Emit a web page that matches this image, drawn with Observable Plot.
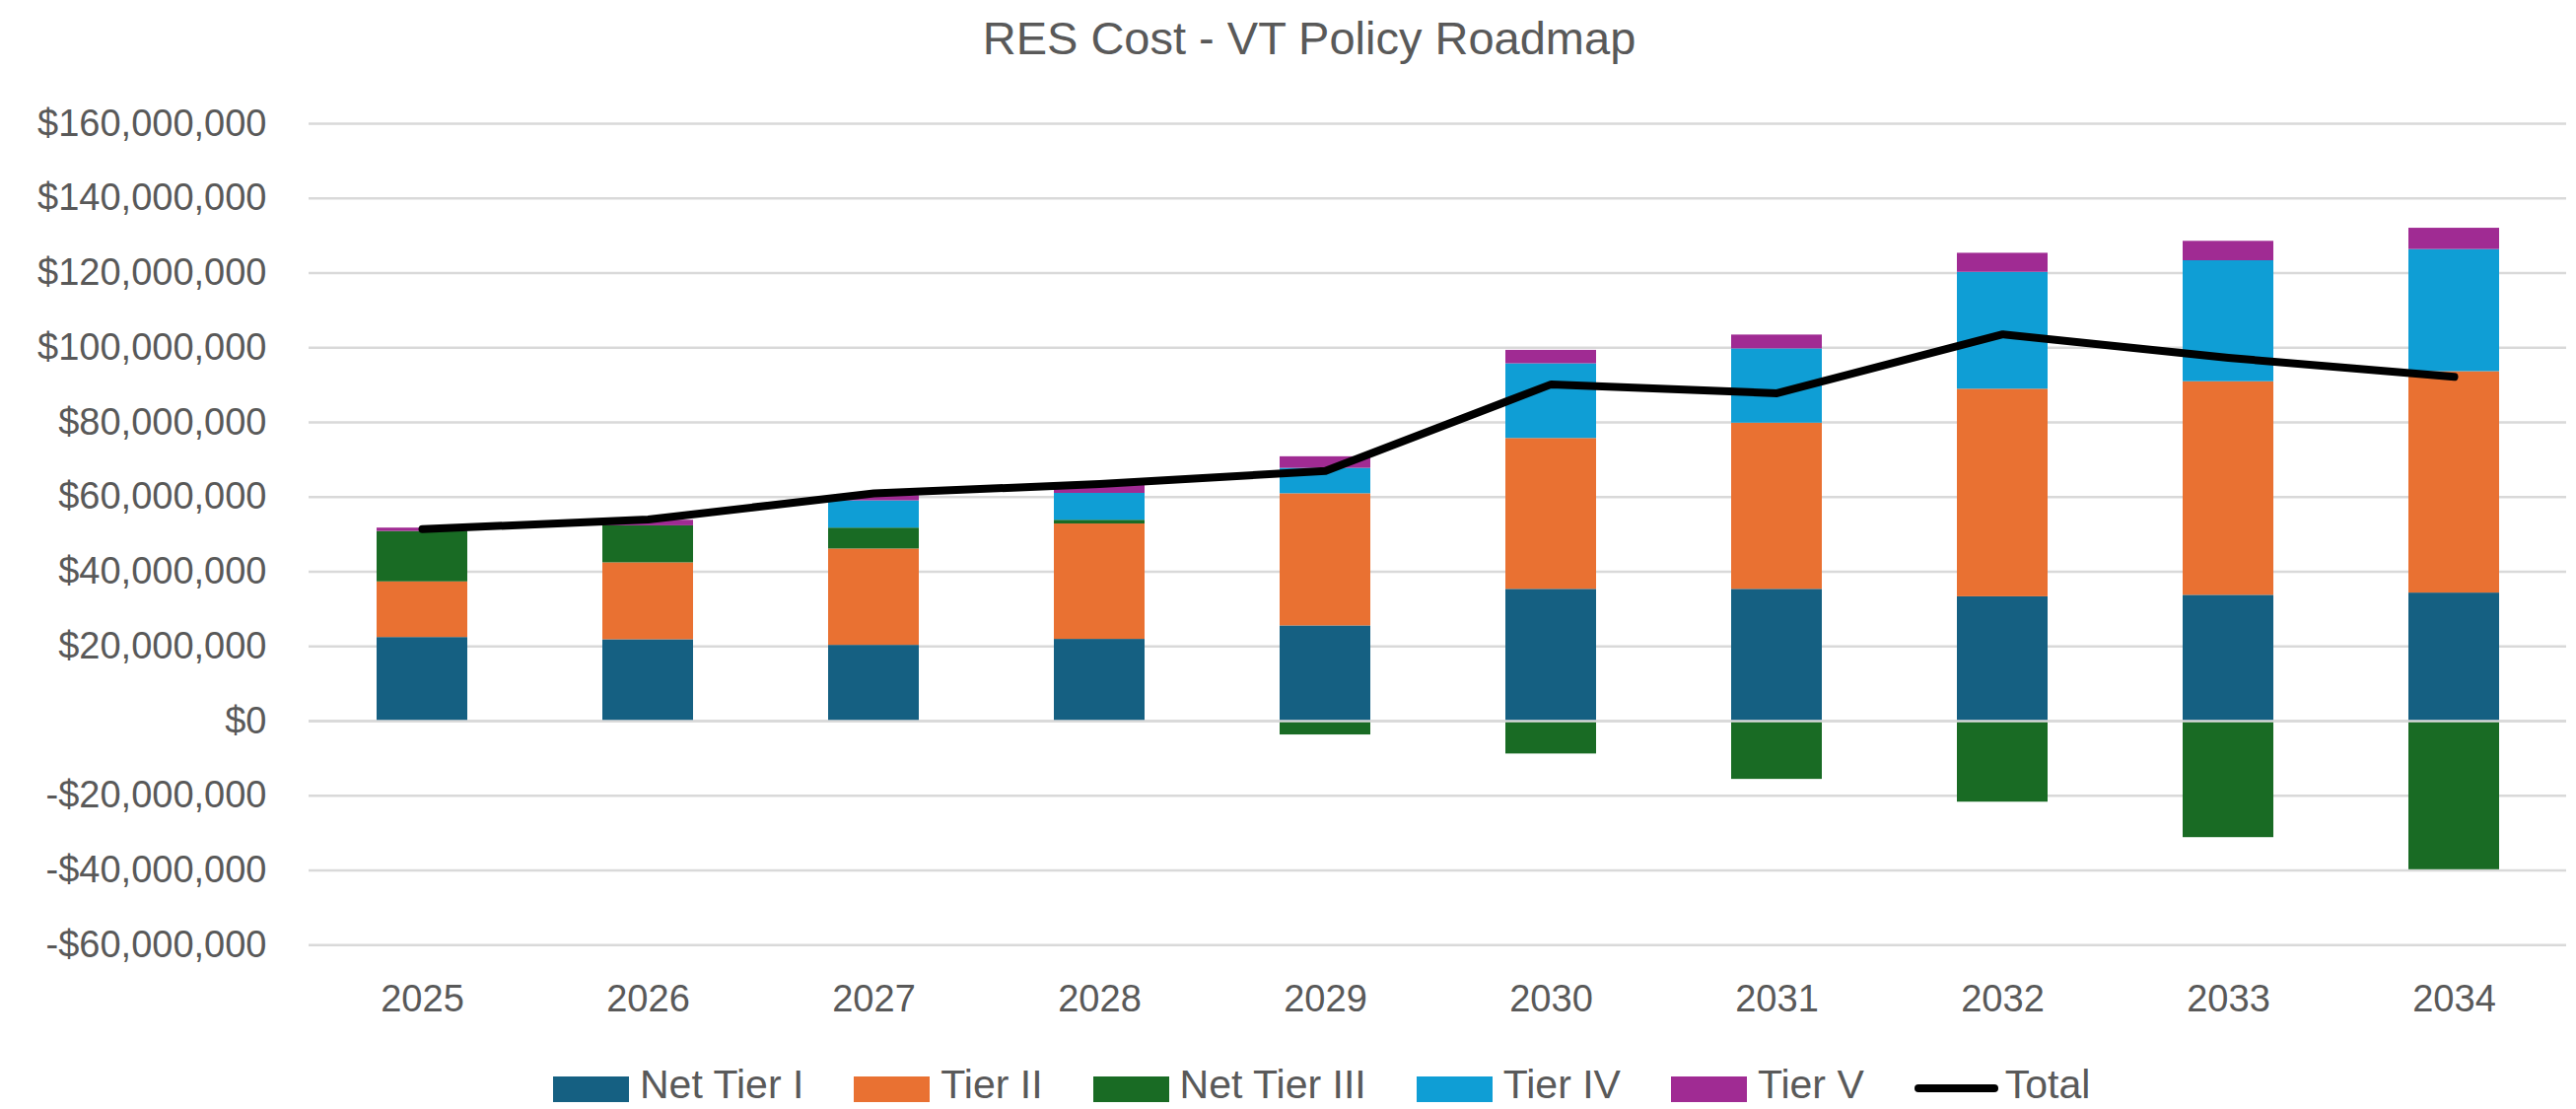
<!DOCTYPE html>
<html>
<head>
<meta charset="utf-8">
<script src="https://cdn.jsdelivr.net/npm/d3@7"></script>
<script src="https://cdn.jsdelivr.net/npm/@observablehq/plot@0.6"></script>
<style>
  body { margin: 0; background: #fff; }
  #wrap { position: relative; width: 2613px; height: 1125px; font-family: "Liberation Sans", Arial, sans-serif; color: #595959; }
  #chart { position: absolute; left: 0; top: 0; }
  #title { position: absolute; left: 0; top: 15px; width: 2656px; text-align: center; font-size: 47px; line-height: 47px; color: #595959; white-space: nowrap; }
  #legend { position: absolute; left: 561px; top: 1080px; height: 41px; display: flex; align-items: center; font-size: 41px; line-height: 41px; color: #595959; white-space: nowrap; }
  .item { display: flex; align-items: center; margin-right: 51px; }
  .sw { width: 77px; height: 26px; margin-right: 11px; margin-top: 8px; }
  .ln { width: 85px; height: 8px; border-radius: 4px; background: #000; margin-right: 7px; margin-top: 6px; }
</style>
</head>
<body>
<div id="wrap">
  <div id="chart"></div>
  <div id="title"></div>
  <div id="legend"></div>
</div>
<script>
const titleText = "RES Cost - VT Policy Roadmap";
const years = ["2025","2026","2027","2028","2029","2030","2031","2032","2033","2034"];
const seriesNames = ["Net Tier I","Tier II","Net Tier III","Tier IV","Tier V"];
const seriesColors = ["#156082","#E97132","#196B24","#0F9ED5","#A02B93"];
const totalName = "Total";

const netTierI   = [22.4e6, 21.8e6, 20.3e6, 21.9e6, 25.5e6, 35.3e6, 35.3e6, 33.3e6, 33.7e6, 34.3e6];
const tierII     = [14.9e6, 20.6e6, 25.8e6, 30.9e6, 35.4e6, 40.4e6, 44.5e6, 55.6e6, 57.2e6, 59.3e6];
const netTierIII = [13.5e6,  9.9e6,  5.6e6,  1.0e6, -3.7e6, -8.8e6, -15.6e6, -21.7e6, -31.2e6, -39.8e6];
const tierIV     = [0, 0, 7.3e6, 7.2e6, 6.8e6, 20.0e6, 19.9e6, 31.3e6, 32.4e6, 32.7e6];
const tierV      = [0.9e6, 1.5e6, 1.4e6, 2.2e6, 3.1e6, 3.6e6, 3.7e6, 5.1e6, 5.2e6, 5.7e6];
const total      = [51.4e6, 54.0e6, 61.0e6, 63.5e6, 67.0e6, 90.2e6, 87.8e6, 103.6e6, 97.3e6, 92.2e6];

const yTicks = [-60e6, -40e6, -20e6, 0, 20e6, 40e6, 60e6, 80e6, 100e6, 120e6, 140e6, 160e6];

const seriesValues = [netTierI, tierII, netTierIII, tierIV, tierV];
const rows = [];
seriesNames.forEach((s, i) => years.forEach((y, j) => rows.push({year: y, series: s, value: seriesValues[i][j]})));
const totalRows = years.map((y, j) => ({year: y, total: total[j]}));

const fmt = v => (v < 0 ? "-" : "") + "$" + d3.format(",")(Math.abs(v));

const W = 2613, H = 1125;
const chart = Plot.plot({
  width: W, height: H,
  marginTop: 125, marginBottom: H - 958.3, marginLeft: 313, marginRight: 10,
  style: { fontFamily: '"Liberation Sans", Arial, sans-serif', fontSize: "38px", color: "#595959", background: "transparent", overflow: "visible" },
  x: { domain: years, paddingInner: 0.6, paddingOuter: 0.3, label: null, tickSize: 0, tickPadding: 40 },
  y: { domain: [-60e6, 160e6], ticks: yTicks, tickFormat: fmt, label: null, tickSize: 0, tickPadding: 43 },
  color: { domain: seriesNames, range: seriesColors },
  marks: [
    Plot.ruleY(yTicks, { stroke: "#d9d9d9", strokeWidth: 2.5 }),
    Plot.barY(rows, Plot.stackY({ x: "year", y: "value", fill: "series", order: seriesNames })),
    Plot.ruleY([0], { stroke: "#d9d9d9", strokeWidth: 2.5 }),
    Plot.line(totalRows, { x: "year", y: "total", stroke: "#000", strokeWidth: 8, strokeLinejoin: "round", strokeLinecap: "round" })
  ]
});
document.getElementById("chart").appendChild(chart);
document.getElementById("title").textContent = titleText;

const legend = document.getElementById("legend");
seriesNames.forEach((s, i) => {
  const it = document.createElement("div"); it.className = "item";
  const sw = document.createElement("div"); sw.className = "sw"; sw.style.background = seriesColors[i];
  const tx = document.createElement("span"); tx.textContent = s;
  it.appendChild(sw); it.appendChild(tx); legend.appendChild(it);
});
{
  const it = document.createElement("div"); it.className = "item";
  const ln = document.createElement("div"); ln.className = "ln";
  const tx = document.createElement("span"); tx.textContent = totalName;
  it.appendChild(ln); it.appendChild(tx); legend.appendChild(it);
}
</script>
</body>
</html>
